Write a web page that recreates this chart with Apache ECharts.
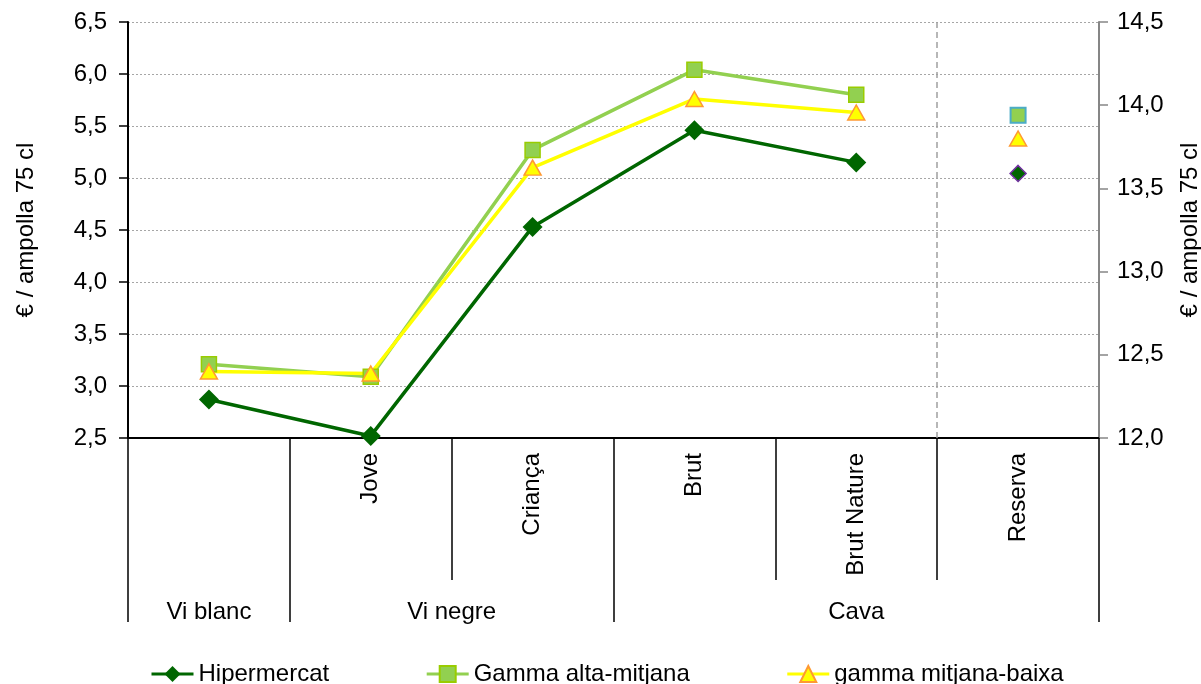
<!DOCTYPE html>
<html><head><meta charset="utf-8">
<script src="https://cdn.jsdelivr.net/npm/echarts@6/dist/echarts.min.js"></script>
<style>html,body{margin:0;padding:0;background:#fff}#c{width:1201px;height:684px}</style>
</head><body><div id="c"></div>
<script>
// ---- data ----
const subCategories = ['', 'Jove', 'Criança', 'Brut', 'Brut Nature', 'Reserva'];
const groupNames = ['Vi blanc', 'Vi negre', 'Cava'];
const groupSizes = [1, 2, 3];
const seriesNames = ['Hipermercat', 'Gamma alta-mitjana', 'gamma mitjana-baixa'];
// left axis values (€ / ampolla 75 cl)
const hipermercat = [2.87, 2.52, 4.53, 5.46, 5.15, null];
const gammaAlta   = [3.21, 3.09, 5.27, 6.04, 5.80, null];
const gammaBaixa  = [3.14, 3.12, 5.10, 5.76, 5.63, null];
// Reserva, plotted against the right axis
const reservaHiper = [null, null, null, null, null, 13.59];
const reservaAlta  = [null, null, null, null, null, 13.94];
const reservaBaixa = [null, null, null, null, null, 13.80];
// axis ticks
const leftAxisTicks  = { min: 2.5, max: 6.5, interval: 0.5 };
const rightAxisTicks = { min: 12.0, max: 14.5, interval: 0.5 };
const axisTitle = '€ / ampolla 75 cl';

// ---- derived ----
const boundaries = [0];
groupSizes.forEach(s => boundaries.push(boundaries[boundaries.length - 1] + s));
const centers = groupSizes.map((s, i) => boundaries[i] + s / 2);
const separatorAt = subCategories.indexOf('Reserva'); // boundary before the right-axis category
const fmt = v => v.toFixed(1).replace('.', ',');
const FONT = '"Liberation Sans", Arial, sans-serif';
const FS = 24;

const chart = echarts.init(document.getElementById('c'));
chart.setOption({
  animation: false,
  textStyle: { fontFamily: FONT },
  grid: { left: 128, right: 102, top: 22, bottom: 246, containLabel: false, outerBoundsMode: 'none' },
  legend: {
    data: seriesNames, left: 145, top: 657, itemWidth: 42, itemHeight: 20, itemGap: 96,
    lineStyle: { width: 3 },
    textStyle: { fontSize: FS, color: '#000', fontFamily: FONT }
  },
  xAxis: [
    {
      type: 'category', data: subCategories, boundaryGap: true,
      axisLine: { lineStyle: { color: '#000', width: 2 } },
      axisTick: { show: true, interval: 0, length: 142, lineStyle: { color: '#000', width: 1.5 } },
      axisLabel: { interval: 0, rotate: 90, margin: 15, fontSize: FS, color: '#000', fontFamily: FONT },
      splitLine: { show: false }
    },
    {
      type: 'value', min: 0, max: 6, position: 'bottom', offset: 142,
      axisLine: { show: false },
      axisTick: { show: true, customValues: boundaries, length: 42, lineStyle: { color: '#000', width: 1.5 } },
      axisLabel: {
        customValues: centers, margin: 20, fontSize: FS, color: '#000', fontFamily: FONT,
        formatter: v => { const k = centers.indexOf(v); return k >= 0 ? groupNames[k] : ''; }
      },
      splitLine: { show: false }
    }
  ],
  yAxis: [
    {
      type: 'value', position: 'left', ...leftAxisTicks,
      name: axisTitle, nameLocation: 'middle', nameRotate: 90, nameGap: 90,
      nameTextStyle: { fontSize: FS, color: '#000', fontFamily: FONT },
      axisLine: { show: true, lineStyle: { color: '#000', width: 2 } },
      axisTick: { show: true, length: 9, lineStyle: { color: '#000', width: 1.5 } },
      axisLabel: { formatter: fmt, margin: 21, fontSize: FS, color: '#000', fontFamily: FONT },
      splitLine: { show: true, lineStyle: { color: '#a6a6a6', type: [2, 2], width: 1 } }
    },
    {
      type: 'value', position: 'right', ...rightAxisTicks,
      name: axisTitle, nameLocation: 'middle', nameRotate: 90, nameGap: 79,
      nameTextStyle: { fontSize: FS, color: '#000', fontFamily: FONT },
      axisLine: { show: true, lineStyle: { color: '#868686', width: 2 } },
      axisTick: { show: true, length: 9, lineStyle: { color: '#868686', width: 1.5 } },
      axisLabel: { formatter: fmt, margin: 18, fontSize: FS, color: '#000', fontFamily: FONT },
      splitLine: { show: false }
    }
  ],
  series: [
    {
      name: 'separator', type: 'scatter', xAxisIndex: 1, yAxisIndex: 0, data: [], silent: true,
      markLine: {
        silent: true, symbol: 'none', label: { show: false },
        lineStyle: { color: '#a0a0a0', type: [6, 4], width: 1.5 },
        data: [{ xAxis: separatorAt }]
      }
    },
    {
      name: seriesNames[0], type: 'line', data: hipermercat, symbol: 'diamond', symbolSize: 20, z: 4,
      lineStyle: { color: '#006600', width: 3.5 }, itemStyle: { color: '#006600' }
    },
    {
      name: seriesNames[1], type: 'line', data: gammaAlta, symbol: 'rect', symbolSize: 15, z: 3,
      lineStyle: { color: '#92d050', width: 3.5 }, itemStyle: { color: '#92d050', borderColor: '#99cc00', borderWidth: 1.5 }
    },
    {
      name: seriesNames[2], type: 'line', data: gammaBaixa, symbol: 'triangle', symbolSize: [17, 15], z: 3,
      lineStyle: { color: '#ffff00', width: 3.5 }, itemStyle: { color: '#ffff00', borderColor: '#ff9933', borderWidth: 1.5 }
    },
    {
      name: 'Reserva Hipermercat', type: 'scatter', yAxisIndex: 1, data: reservaHiper, symbol: 'diamond', symbolSize: 16,
      itemStyle: { color: '#006600', borderColor: '#7030a0', borderWidth: 1.5, opacity: 1 }
    },
    {
      name: 'Reserva Gamma alta-mitjana', type: 'scatter', yAxisIndex: 1, data: reservaAlta, symbol: 'rect', symbolSize: 15,
      itemStyle: { color: '#92d050', borderColor: '#4bacc6', borderWidth: 2, opacity: 1 }
    },
    {
      name: 'Reserva gamma mitjana-baixa', type: 'scatter', yAxisIndex: 1, data: reservaBaixa, symbol: 'triangle', symbolSize: [17, 15],
      itemStyle: { color: '#ffff00', borderColor: '#ff9933', borderWidth: 1.5, opacity: 1 }
    }
  ]
});
</script>
</body></html>
